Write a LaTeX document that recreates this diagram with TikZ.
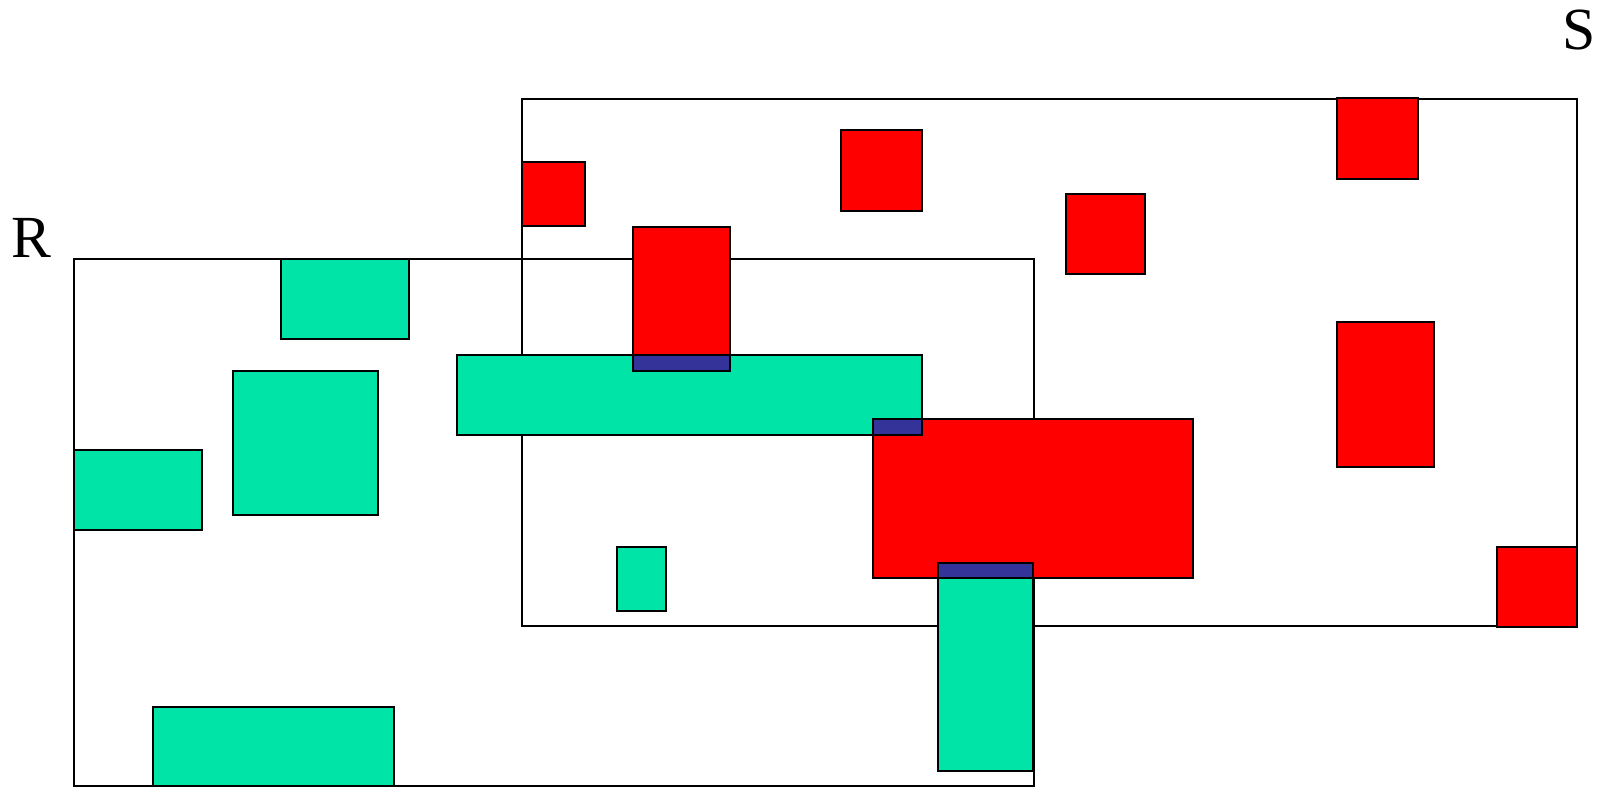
\documentclass[tikz,border=0pt]{standalone}
\usepackage{fontspec}
\setmainfont{Liberation Serif}
\usetikzlibrary{calc}

\begin{document}
\begin{tikzpicture}[x=0.02cm,y=-0.02cm,
        outline/.style={line width=1.5pt},
        rblock/.style={fill=red,draw=black,line width=1.5pt},
        gblock/.style={fill=sgreen,draw=black,line width=1.5pt},
        overlap/.style={fill=sblue,draw=black,line width=1.5pt},
        setname/.style={font=\fontsize{34}{34}\selectfont,inner sep=0pt}]
        \definecolor{sgreen}{RGB}{0,228,168}
        \definecolor{sblue}{RGB}{51,51,153}
        \useasboundingbox (0,0) rectangle (1605,787);

        % The two relations
        \draw[outline] (74,259) rectangle (1034,786); % R
        \draw[outline] (522,99) rectangle (1577,626); % S
        \node[setname] (labelR) at (31,238) {R};
        \node[setname] (labelS) at (1579,30) {S};

        % Objects of R
        \draw[gblock] (281,259) rectangle (409,339);
        \draw[gblock] (233,371) rectangle (378,515);
        \draw[gblock] (74,450) rectangle (202,530);
        \draw[gblock] (457,355) rectangle (922,435);
        \draw[gblock] (617,547) rectangle (666,611);
        \draw[gblock] (938,563) rectangle (1033,771);
        \draw[gblock] (153,707) rectangle (394,786);

        % Objects of S
        \draw[rblock] (522,162) rectangle (585,226);
        \draw[rblock] (841,130) rectangle (922,211);
        \draw[rblock] (1337,98) rectangle (1418,179);
        \draw[rblock] (1066,194) rectangle (1145,274);
        \draw[rblock] (633,227) rectangle (730,371);
        \draw[rblock] (1337,322) rectangle (1434,467);
        \draw[rblock] (873,419) rectangle (1193,578);
        \draw[rblock] (1497,547) rectangle (1577,627);

        % Intersecting pairs
        \draw[overlap] (633,355) rectangle (730,371);
        \draw[overlap] (873,419) rectangle (922,435);
        \draw[overlap] (938,563) rectangle (1033,578);
\end{tikzpicture}
\end{document}
